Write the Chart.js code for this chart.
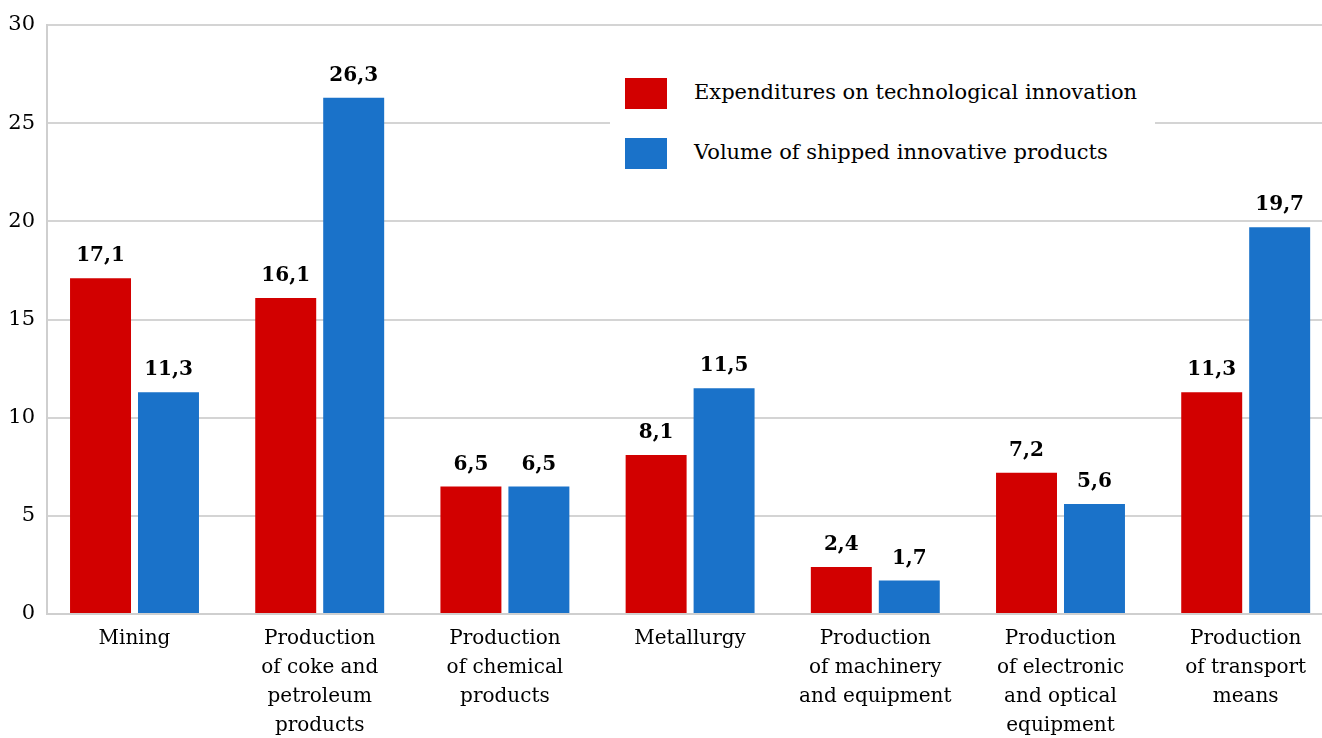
<!DOCTYPE html>
<html>
<head>
<meta charset="utf-8">
<script src="https://cdn.jsdelivr.net/npm/chart.js@4.4.1/dist/chart.umd.min.js"></script>
<style>
  html, body { margin: 0; padding: 0; background: #fff; overflow: hidden; }
  #wrap { position: relative; width: 1322px; height: 738px; }
  #legend {
    position: absolute; left: 610px; top: 62px; width: 545px; height: 122px;
    background: #fff; font-family: "DejaVu Serif", serif; font-size: 21px; color: #000;
  }
  .item { position: absolute; left: 15px; height: 31px; display: flex; align-items: center; }
  .sw { width: 42px; height: 31px; margin-right: 27px; }
  .item span { position: relative; top: -2px; }
</style>
</head>
<body>
<div id="wrap">
  <canvas id="c" width="1322" height="738"></canvas>
  <div id="legend"></div>
</div>
<script>
const categories = [
  ['Mining'],
  ['Production', 'of coke and', 'petroleum', 'products'],
  ['Production', 'of chemical', 'products'],
  ['Metallurgy'],
  ['Production', 'of machinery', 'and equipment'],
  ['Production', 'of electronic', 'and optical', 'equipment'],
  ['Production', 'of transport', 'means']
];
const seriesNames = ['Expenditures on technological innovation', 'Volume of shipped innovative products'];
const expenditures = [17.1, 16.1, 6.5, 8.1, 2.4, 7.2, 11.3];
const shipped = [11.3, 26.3, 6.5, 11.5, 1.7, 5.6, 19.7];
const yTicks = [0, 5, 10, 15, 20, 25, 30];

const RED = '#d20000';
const BLUE = '#1a72c9';
const FONT = '"DejaVu Serif", serif';

// legend as html
const legend = document.getElementById('legend');
[RED, BLUE].forEach((col, i) => {
  const d = document.createElement('div');
  d.className = 'item';
  d.style.top = (16 + i * 60) + 'px';
  d.innerHTML = '<div class="sw" style="background:' + col + '"></div><span></span>';
  d.querySelector('span').textContent = seriesNames[i];
  legend.appendChild(d);
});

const valueLabels = {
  id: 'valueLabels',
  afterDatasetsDraw(chart) {
    const ctx = chart.ctx;
    ctx.save();
    ctx.font = 'bold 20px ' + FONT;
    ctx.fillStyle = '#000';
    ctx.textAlign = 'center';
    ctx.textBaseline = 'middle';
    chart.data.datasets.forEach((ds, di) => {
      chart.getDatasetMeta(di).data.forEach((el, i) => {
        ctx.fillText(ds.data[i].y.toFixed(1).replace('.', ','), el.x, el.y - 22);
      });
    });
    ctx.restore();
  }
};

const toPoints = arr => arr.map((v, i) => ({ x: i, y: v }));

new Chart(document.getElementById('c'), {
  type: 'bar',
  data: {
    datasets: [
      { label: seriesNames[0], data: toPoints(expenditures), backgroundColor: RED,
        categoryPercentage: 0.734, barPercentage: 0.897 },
      { label: seriesNames[1], data: toPoints(shipped), backgroundColor: BLUE,
        categoryPercentage: 0.734, barPercentage: 0.897 }
    ]
  },
  options: {
    responsive: false,
    animation: false,
    layout: { padding: { top: 25, right: 0, left: 0, bottom: 0 } },
    plugins: { legend: { display: false }, tooltip: { enabled: false } },
    scales: {
      x: {
        type: 'linear',
        offset: false,
        min: -0.4725,
        max: 6.412,
        grid: { display: false, offset: false },
        border: { display: true, color: '#cfcfcf', width: 2 },
        afterBuildTicks: s => { s.ticks = categories.map((_, i) => ({ value: i })); },
        afterFit: s => { s.height = 124; },
        ticks: {
          autoSkip: false, maxRotation: 0, padding: 2,
          color: '#000',
          font: { family: FONT, size: 20, lineHeight: 1.45 },
          callback: v => categories[v]
        }
      },
      y: {
        min: 0, max: 30,
        afterBuildTicks: s => { s.ticks = yTicks.map(v => ({ value: v })); },
        afterFit: s => { s.width = 47; },
        grid: { color: '#d4d4d4', lineWidth: 2, drawTicks: false },
        border: { display: true, color: '#cfcfcf', width: 2 },
        ticks: {
          padding: 12, color: '#000',
          font: { family: FONT, size: 21 }
        }
      }
    }
  },
  plugins: [valueLabels]
});
</script>
</body>
</html>
